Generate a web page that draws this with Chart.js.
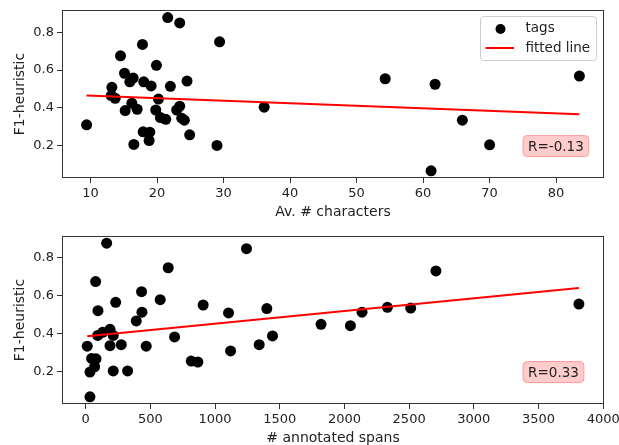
<!DOCTYPE html>
<html>
<head>
<meta charset="utf-8">
<script src="https://cdn.jsdelivr.net/npm/chart.js@4.4.0/dist/chart.umd.min.js"></script>
<style>
  html, body { margin: 0; padding: 0; background: #fff; overflow: hidden; }
  .panel { position: absolute; left: 0; width: 619px; }
  #topPanel { top: 0; height: 230px; }
  #bottomPanel { top: 230px; height: 220px; }
</style>
</head>
<body>
<div class="panel" id="topPanel"><canvas id="charsChart"></canvas></div>
<div class="panel" id="bottomPanel"><canvas id="spansChart"></canvas></div>
<script>
// Top panel: average number of characters vs F1
const charsX = [9.4, 13.2, 13.1, 13.7, 14.5, 15.1, 15.2, 15.9, 16.4, 16.2,
                17.0, 16.5, 17.8, 18.0, 17.9, 18.9, 18.8, 19.1, 19.9, 20.2,
                19.8, 20.5, 21.3, 21.6, 22.0, 22.95, 23.4, 23.4, 23.7, 24.1,
                24.5, 24.9, 29.0, 29.4, 36.1, 54.3, 61.8, 61.2, 65.9, 70.0, 83.5];
const charsF1 = [0.311, 0.509, 0.465, 0.451, 0.675, 0.583, 0.386, 0.538, 0.558, 0.425,
                 0.393, 0.207, 0.735, 0.538, 0.274, 0.272, 0.228, 0.516, 0.625, 0.447,
                 0.389, 0.349, 0.340, 0.877, 0.514, 0.389, 0.409, 0.849, 0.346, 0.335,
                 0.542, 0.258, 0.202, 0.749, 0.404, 0.554, 0.525, 0.068, 0.335, 0.205, 0.568];
const charsFitX = [9.4, 83.5];
const charsFitY = [0.465, 0.367];
const charsTicks = [10, 20, 30, 40, 50, 60, 70, 80];

// Bottom panel: number of annotated spans vs F1
const spansX = [162, 1243, 638, 77, 432, 576, 232, 908, 95, 435,
                1104, 1400, 391, 1819, 188, 131, 93, 213, 687, 1444,
                12, 188, 275, 468, 1341, 1120, 46, 80, 69, 816,
                867, 33, 213, 324, 33, 2046, 2136, 2332, 2512, 2707, 3812];
const spansF1 = [0.876, 0.847, 0.747, 0.674, 0.621, 0.579, 0.565, 0.551, 0.521, 0.513,
                 0.509, 0.532, 0.467, 0.449, 0.423, 0.407, 0.391, 0.391, 0.383, 0.388,
                 0.334, 0.337, 0.342, 0.334, 0.342, 0.309, 0.270, 0.268, 0.226, 0.256,
                 0.251, 0.198, 0.204, 0.204, 0.068, 0.442, 0.513, 0.539, 0.535, 0.730, 0.556];
const spansFitX = [12, 3812];
const spansFitY = [0.386, 0.641];
const spansTicks = [0, 500, 1000, 1500, 2000, 2500, 3000, 3500, 4000];

const f1Ticks = [0.2, 0.4, 0.6, 0.8];

Chart.defaults.font.family = "'DejaVu Sans', sans-serif";
Chart.defaults.color = '#222';

const tickFont = { size: 13 };
const titleFont = { size: 14 };

// matplotlib-like frame, R box and legend
const framePlugin = {
    id: 'frame',
    afterDraw(chart, args, opts) {
        const { ctx, chartArea: a } = chart;
        const w = a.right - a.left;
        const h = a.bottom - a.top;
        ctx.save();
        ctx.strokeStyle = '#333';
        ctx.lineWidth = 1;
        ctx.strokeRect(Math.round(a.left) + 0.5, Math.round(a.top) + 0.5,
                       Math.round(w) - 1, Math.round(h) - 1);

        // R box
        ctx.font = '13.5px "DejaVu Sans"';
        ctx.textBaseline = 'middle';
        ctx.textAlign = 'left';
        const tx = a.left + opts.rx * w;
        const ty = a.bottom - opts.ry * h;
        const tw = ctx.measureText(opts.rText).width;
        ctx.beginPath();
        ctx.roundRect(tx - 5, ty - 10.5, tw + 10, 21, 4);
        ctx.fillStyle = '#ffcccc';
        ctx.fill();
        ctx.strokeStyle = '#ff9999';
        ctx.stroke();
        ctx.fillStyle = '#222';
        ctx.fillText(opts.rText, tx, ty + 1);

        if (opts.legend) {
            const bx = a.right - 123.5;
            const by = a.top + 6.5;
            ctx.beginPath();
            ctx.roundRect(bx, by, 116, 44, 3);
            ctx.fillStyle = 'rgba(255,255,255,0.8)';
            ctx.fill();
            ctx.strokeStyle = '#cccccc';
            ctx.stroke();
            // tags marker
            ctx.beginPath();
            ctx.arc(bx + 20, by + 12.5, 5, 0, Math.PI * 2);
            ctx.fillStyle = '#000';
            ctx.fill();
            // fitted line marker
            ctx.beginPath();
            ctx.moveTo(bx + 5, by + 31.5);
            ctx.lineTo(bx + 33.5, by + 31.5);
            ctx.strokeStyle = 'red';
            ctx.lineWidth = 2;
            ctx.stroke();
            ctx.fillStyle = '#222';
            ctx.fillText('tags', bx + 45, by + 12);
            ctx.fillText('fitted line', bx + 45, by + 32);
        }
        ctx.restore();
    }
};

function makeChart(canvasId, xs, ys, fitX, fitY, cfg) {
    const points = xs.map((x, i) => ({ x: x, y: ys[i] }));
    const fit = fitX.map((x, i) => ({ x: x, y: fitY[i] }));
    return new Chart(document.getElementById(canvasId), {
        type: 'scatter',
        data: {
            datasets: [
                {
                    label: 'fitted line',
                    type: 'line',
                    data: fit,
                    borderColor: 'red',
                    borderWidth: 2,
                    pointRadius: 0,
                    fill: false,
                    order: 0
                },
                {
                    label: 'tags',
                    data: points,
                    backgroundColor: '#000',
                    borderWidth: 0,
                    pointRadius: 5.5,
                    order: 1
                }
            ]
        },
        options: {
            responsive: true,
            maintainAspectRatio: false,
            animation: false,
            layout: { padding: { top: cfg.padTop, right: 15, left: 0, bottom: 0 } },
            plugins: {
                legend: { display: false },
                tooltip: { enabled: false },
                frame: { rText: cfg.rText, rx: 0.86, ry: 0.19, legend: cfg.legend }
            },
            scales: {
                x: {
                    type: 'linear',
                    min: cfg.xMin,
                    max: cfg.xMax,
                    afterBuildTicks: s => { s.ticks = cfg.xTicks.map(v => ({ value: v })); },
                    afterFit: s => {
                        s.height = cfg.xAxisHeight;
                        s.paddingLeft = 0;
                        s.paddingRight = 0;
                    },
                    grid: { drawOnChartArea: false, drawTicks: true, tickLength: 5, color: '#333' },
                    border: { display: false },
                    ticks: { font: tickFont, padding: 3, autoSkip: false, maxRotation: 0,
                             callback: v => String(v) },
                    title: { display: true, text: cfg.xTitle, font: titleFont,
                             padding: { top: 0, bottom: cfg.xTitlePad } }
                },
                y: {
                    type: 'linear',
                    min: cfg.yMin,
                    max: cfg.yMax,
                    afterBuildTicks: s => { s.ticks = f1Ticks.map(v => ({ value: v })); },
                    afterFit: s => {
                        s.width = 62;
                        s.paddingTop = 0;
                        s.paddingBottom = 0;
                    },
                    grid: { drawOnChartArea: false, drawTicks: true, tickLength: 5, color: '#333' },
                    border: { display: false },
                    ticks: { font: tickFont, padding: 3, autoSkip: false,
                             callback: v => String(v) },
                    title: { display: true, text: 'F1-heuristic', font: titleFont,
                             padding: { top: 11.5, bottom: 0 } }
                }
            }
        },
        plugins: [framePlugin]
    });
}

makeChart('charsChart', charsX, charsF1, charsFitX, charsFitY, {
    padTop: 10, xAxisHeight: 52, xTitlePad: 9.6,
    xMin: 5.7, xMax: 87.2, yMin: 0.03, yMax: 0.917,
    xTicks: charsTicks, xTitle: 'Av. # characters',
    rText: 'R=-0.13', legend: true
});

makeChart('spansChart', spansX, spansF1, spansFitX, spansFitY, {
    padTop: 6, xAxisHeight: 46, xTitlePad: 3.6,
    xMin: -183, xMax: 4006, yMin: 0.03, yMax: 0.914,
    xTicks: spansTicks, xTitle: '# annotated spans',
    rText: 'R=0.33', legend: false
});
</script>
</body>
</html>
